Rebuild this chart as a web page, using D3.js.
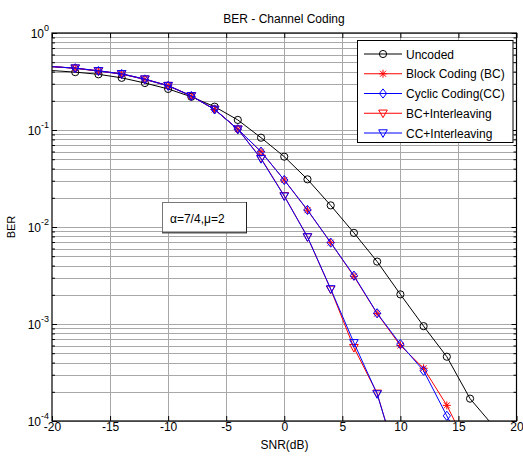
<!DOCTYPE html>
<html>
<head>
<meta charset="utf-8">
<script src="https://cdn.jsdelivr.net/npm/d3@7/dist/d3.min.js"></script>
<style>
  html, body { margin: 0; padding: 0; background: #fff; }
  svg text { font-family: "Liberation Sans", Arial, sans-serif; }
</style>
</head>
<body>
<svg id="chart" width="523" height="462"></svg>
<script>
// SNR points (dB)
const snr = [-20, -18, -16, -14, -12, -10, -8, -6, -4, -2, 0, 2, 4, 6, 8, 10, 12, 14, 16, 18];

// Bit error rate per scheme, in SNR order
const uncoded        = [0.41, 0.395, 0.375, 0.345, 0.305, 0.265, 0.22, 0.174, 0.127, 0.0833, 0.0531, 0.031, 0.0167, 0.0087, 0.0044, 0.00202, 0.00095, 0.00046, 0.00017, 0.000089];
const blockCoding    = [0.45, 0.433, 0.406, 0.378, 0.333, 0.286, 0.224, 0.163, 0.102, 0.0598, 0.0305, 0.0149, 0.0069, 0.0031, 0.00128, 0.0006, 0.00035, 0.000145, 0.000048];
const cyclicCoding   = [0.45, 0.433, 0.405, 0.377, 0.332, 0.285, 0.224, 0.163, 0.102, 0.0598, 0.0305, 0.015, 0.0069, 0.00315, 0.00129, 0.00062, 0.00033, 0.000113, 0.00004];
const bcInterleaving = [0.45, 0.434, 0.407, 0.379, 0.334, 0.287, 0.225, 0.163, 0.102, 0.0511, 0.021, 0.0079, 0.00228, 0.00057, 0.000193, 0.00003];
const ccInterleaving = [0.45, 0.435, 0.408, 0.38, 0.335, 0.287, 0.225, 0.163, 0.102, 0.0505, 0.0208, 0.0079, 0.0023, 0.00064, 0.00019, 0.000031];

const seriesNames = ["Uncoded", "Block Coding (BC)", "Cyclic Coding(CC)", "BC+Interleaving", "CC+Interleaving"];
const seriesColors = ["#000000", "#ff0000", "#0000ff", "#ff0000", "#0000ff"];
const seriesMarkers = ["circle", "star", "diamond", "triangle", "triangle"];
const seriesValues = [uncoded, blockCoding, cyclicCoding, bcInterleaving, ccInterleaving];

const xTicks = [-20, -15, -10, -5, 0, 5, 10, 15, 20];
const yDecades = [1e-4, 1e-3, 1e-2, 1e-1, 1];
const yExponents = [-4, -3, -2, -1, 0];

const titleText = "BER - Channel Coding";
const xLabel = "SNR(dB)";
const yLabel = "BER";
const noteText = "\u03b1=7/4,\u03bc=2";

// ---- layout ----
const svg = d3.select("#chart");
const plot = { left: 52, right: 516.5, top: 33, bottom: 421 };

const x = d3.scaleLinear().domain([-20, 20]).range([plot.left, plot.right]);
const y = d3.scaleLog().domain([1e-4, 1]).range([plot.bottom, plot.top]);

svg.append("defs").append("clipPath").attr("id", "plotClip")
  .append("rect")
  .attr("x", plot.left).attr("y", plot.top)
  .attr("width", plot.right - plot.left).attr("height", plot.bottom - plot.top);

// ---- grid ----
const minorVals = [];
yDecades.slice(0, -1).forEach(d => { for (let k = 2; k <= 9; k++) minorVals.push(d * k); });

const grid = svg.append("g").attr("stroke", "#a8a8a8").attr("stroke-width", 1);
grid.selectAll("line.h").data(yDecades.concat(minorVals)).join("line")
  .attr("x1", plot.left).attr("x2", plot.right)
  .attr("y1", d => Math.round(y(d)) + 0.5).attr("y2", d => Math.round(y(d)) + 0.5);
grid.selectAll("line.v").data(xTicks.slice(1, -1)).join("line")
  .attr("y1", plot.top).attr("y2", plot.bottom)
  .attr("x1", d => Math.round(x(d)) + 0.5).attr("x2", d => Math.round(x(d)) + 0.5);

// ---- axes (MATLAB-style box with inward ticks) ----
const axBottom = d3.axisBottom(x).tickValues(xTicks).tickSizeInner(-5).tickSizeOuter(0).tickFormat(d => d);
const axTop = d3.axisTop(x).tickValues(xTicks).tickSizeInner(-5).tickSizeOuter(0).tickFormat("");
const axLeftMajor = d3.axisLeft(y).tickValues(yDecades).tickSizeInner(-5).tickSizeOuter(0).tickFormat("");
const axLeftMinor = d3.axisLeft(y).tickValues(minorVals).tickSizeInner(-3).tickSizeOuter(0).tickFormat("");
const axRightMajor = d3.axisRight(y).tickValues(yDecades).tickSizeInner(-5).tickSizeOuter(0).tickFormat("");
const axRightMinor = d3.axisRight(y).tickValues(minorVals).tickSizeInner(-3).tickSizeOuter(0).tickFormat("");

function styleAxis(g) {
  g.select(".domain").remove();
  g.selectAll(".tick line").attr("stroke", "#000");
  g.selectAll("text").attr("font-size", 12).attr("fill", "#000")
    .attr("font-family", "'Liberation Sans', Arial, sans-serif");
}

svg.append("g").attr("transform", `translate(0,${plot.bottom})`).call(axBottom).call(styleAxis)
  .selectAll("text").attr("dy", null).attr("y", 9.5);
svg.append("g").attr("transform", `translate(0,${plot.top})`).call(axTop).call(styleAxis);
svg.append("g").attr("transform", `translate(${plot.left},0)`).call(axLeftMajor).call(styleAxis);
svg.append("g").attr("transform", `translate(${plot.left},0)`).call(axLeftMinor).call(styleAxis);
svg.append("g").attr("transform", `translate(${plot.right},0)`).call(axRightMajor).call(styleAxis);
svg.append("g").attr("transform", `translate(${plot.right},0)`).call(axRightMinor).call(styleAxis);

// y tick labels as powers of ten
const yLab = svg.append("g");
yDecades.forEach((d, i) => {
  const t = yLab.append("text")
    .attr("x", 49).attr("y", y(d) + 5)
    .attr("text-anchor", "end").attr("font-size", 12);
  t.append("tspan").text("10");
  t.append("tspan").attr("font-size", 9).attr("dy", -7).text(yExponents[i]);
});

// ---- series ----
const line = d3.line().x(d => x(d[0])).y(d => y(d[1]));
const dataLayer = svg.append("g").attr("clip-path", "url(#plotClip)");

function markerPath(type) {
  switch (type) {
    case "star":
      return "M-4,0H4M0,-4V4M-3,-3L3,3M-3,3L3,-3";
    case "diamond":
      return "M0,-4.6L3.6,0L0,4.6L-3.6,0Z";
    case "triangle":
      return "M-4.3,-3.2L4.3,-3.2L0,4.4Z";
    default:
      return null;
  }
}

function drawMarker(g, type, color, cx, cy) {
  if (type === "circle") {
    g.append("circle").attr("cx", cx).attr("cy", cy).attr("r", 3.6)
      .attr("fill", "none").attr("stroke", color).attr("stroke-width", 1);
  } else {
    g.append("path").attr("d", markerPath(type))
      .attr("transform", `translate(${cx},${cy})`)
      .attr("fill", "none").attr("stroke", color).attr("stroke-width", 1);
  }
}

seriesValues.forEach((vals, si) => {
  const pts = vals.map((v, i) => [snr[i], v]);
  const g = dataLayer.append("g");
  g.append("path").datum(pts).attr("d", line)
    .attr("fill", "none").attr("stroke", seriesColors[si]).attr("stroke-width", 1);
  pts.filter(p => p[0] > -20 && p[0] < 20 && p[1] >= 1e-4)
    .forEach(p => drawMarker(g, seriesMarkers[si], seriesColors[si], x(p[0]), y(p[1])));
});

// plot box
svg.append("rect")
  .attr("x", plot.left).attr("y", plot.top)
  .attr("width", plot.right - plot.left).attr("height", plot.bottom - plot.top)
  .attr("fill", "none").attr("stroke", "#000").attr("stroke-width", 1.2);

// ---- annotation box ----
const note = svg.append("g");
note.append("rect").attr("x", 162.5).attr("y", 202.5).attr("width", 84).attr("height", 30)
  .attr("fill", "#fff").attr("stroke", "#777").attr("stroke-width", 1);
note.append("line").attr("x1", 162).attr("x2", 247).attr("y1", 232.5).attr("y2", 232.5)
  .attr("stroke", "#555").attr("stroke-width", 2);
note.append("line").attr("x1", 246.5).attr("x2", 246.5).attr("y1", 202).attr("y2", 233)
  .attr("stroke", "#222").attr("stroke-width", 1);
note.append("text").attr("x", 170).attr("y", 223).attr("font-size", 12).text(noteText);

// ---- legend ----
const legend = svg.append("g");
legend.append("rect").attr("x", 357.5).attr("y", 40.5).attr("width", 155.5).attr("height", 102)
  .attr("fill", "#fff").attr("stroke", "#000").attr("stroke-width", 1);
seriesNames.forEach((name, i) => {
  const ly = 54 + i * 19.75;
  legend.append("line").attr("x1", 364).attr("x2", 402).attr("y1", ly).attr("y2", ly)
    .attr("stroke", seriesColors[i]).attr("stroke-width", 1);
  drawMarker(legend, seriesMarkers[i], seriesColors[i], 383, ly);
  legend.append("text").attr("x", 406).attr("y", ly + 4.5).attr("font-size", 12).text(name);
});

// ---- titles ----
svg.append("text").attr("x", 284).attr("y", 22.5).attr("text-anchor", "middle")
  .attr("font-size", 12).text(titleText);
svg.append("text").attr("x", 284.5).attr("y", 449).attr("text-anchor", "middle")
  .attr("font-size", 12).text(xLabel);
svg.append("text").attr("transform", `translate(15,${(plot.top + plot.bottom) / 2}) rotate(-90)`)
  .attr("text-anchor", "middle").attr("font-size", 11).text(yLabel);
</script>
</body>
</html>
